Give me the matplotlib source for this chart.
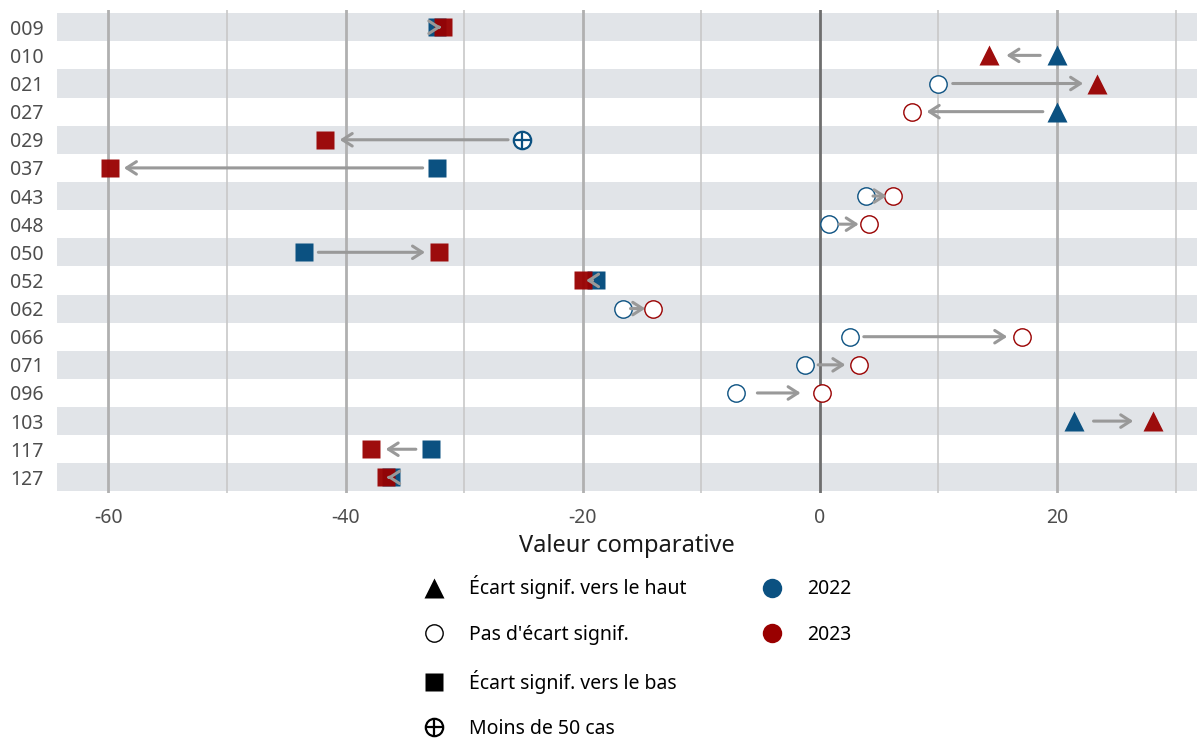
import numpy as np
import matplotlib
matplotlib.use('Agg')
import matplotlib.pyplot as plt
from matplotlib.patches import FancyArrowPatch
from matplotlib.lines import Line2D
from matplotlib.legend_handler import HandlerTuple

plt.rcParams['font.family'] = ['Noto Sans', 'DejaVu Sans']
plt.rcParams['axes.unicode_minus'] = False

# data
codes = ['009', '010', '021', '027', '029', '037', '043', '048', '050',
         '052', '062', '066', '071', '096', '103', '117', '127']
val_2022 = [-32.3, 20.0, 10.0, 20.0, -25.1, -32.3, 3.9, 0.8, -43.5,
            -18.9, -16.6, 2.5, -1.3, -7.1, 21.4, -32.8, -36.2]
val_2023 = [-31.8, 14.3, 23.4, 7.8, -41.7, -59.9, 6.2, 4.1, -32.1,
            -20.0, -14.1, 17.0, 3.3, 0.2, 28.1, -37.9, -36.6]
sig_2022 = ['bas', 'haut', 'ns', 'haut', 'lt50', 'bas', 'ns', 'ns', 'bas',
            'bas', 'ns', 'ns', 'ns', 'ns', 'haut', 'bas', 'bas']
sig_2023 = ['bas', 'haut', 'haut', 'ns', 'bas', 'bas', 'ns', 'ns', 'bas',
            'bas', 'ns', 'ns', 'ns', 'ns', 'haut', 'bas', 'bas']

BLUE = '#0b5181'
RED = '#990000'
BAND = '#e1e4e8'
ARROW = '#999999'


def draw_point(ax, x, y, sig, color, alpha=1.0):
    if sig == 'haut':
        ax.plot(x, y, marker='^', ms=15, color=color, mec='none', alpha=alpha, zorder=3)
    elif sig == 'bas':
        ax.plot(x, y, marker='s', ms=13, color=color, mec='none', alpha=alpha, zorder=3)
    elif sig == 'ns':
        ax.plot(x, y, marker='o', ms=12.5, mfc='white', mec=color, mew=1.0, zorder=3)
    else:
        ax.plot(x, y, marker='o', ms=12.5, mfc='white', mec=color, mew=1.6, zorder=3)
        ax.plot(x, y, marker='+', ms=12.5, color=color, mew=1.6, zorder=3)


fig = plt.figure(figsize=(11.97, 7.40), dpi=100)
ax = fig.add_axes([0.048, 0.334, 0.952, 0.652])

n = len(codes)
ypos = np.arange(n)

for i in ypos:
    if i % 2 == 0:
        ax.axhspan(i - 0.5, i + 0.5, color=BAND, lw=0, zorder=0)

for v in [-50, -30, -10, 10, 30]:
    ax.axvline(v, color='#c8c8c8', lw=1.2, zorder=1)
for v in [-60, -40, -20, 20]:
    ax.axvline(v, color='#b0b0b0', lw=2, zorder=1)
ax.axvline(0, color='#6e6e6e', lw=2, zorder=1)

for i in ypos:
    draw_point(ax, val_2022[i], i, sig_2022[i], BLUE)
    draw_point(ax, val_2023[i], i, sig_2023[i], RED, alpha=0.95)

    d = val_2023[i] - val_2022[i]
    sgn = np.sign(d)
    gap = 0.25 * abs(d) if abs(d) < 8 else 1.2
    x0 = val_2022[i] + sgn * gap
    x1 = val_2023[i] - sgn * gap
    arr = FancyArrowPatch((x0, i), (x1, i), arrowstyle='->,head_length=0.7,head_width=0.45',
                          mutation_scale=10, color=ARROW, lw=2.2,
                          shrinkA=0, shrinkB=0, zorder=4)
    ax.add_patch(arr)

ax.set_xlim(-64.3, 31.8)
ax.set_ylim(n - 1 + 0.55, -0.6)
ax.set_yticks(ypos)
ax.set_yticklabels(codes)
ax.set_xticks([-60, -40, -20, 0, 20])
ax.tick_params(axis='both', length=0, labelsize=14, colors='#4d4d4d')
ax.tick_params(axis='y', pad=10)
ax.tick_params(axis='x', pad=11)
ax.set_xlabel('Valeur comparative', fontsize=17, color='#1a1a1a', labelpad=4)
for s in ax.spines.values():
    s.set_visible(False)

# legend
h_haut = Line2D([], [], ls='none', marker='^', ms=15, color='black', mec='none')
h_ns = Line2D([], [], ls='none', marker='o', ms=12.5, mfc='white', mec='black', mew=1.0)
h_bas = Line2D([], [], ls='none', marker='s', ms=13, color='black', mec='none')
h_c = Line2D([], [], ls='none', marker='o', ms=12.5, mfc='white', mec='black', mew=1.6)
h_p = Line2D([], [], ls='none', marker='+', ms=12.5, color='black', mew=1.6)
h_22 = Line2D([], [], ls='none', marker='o', ms=14, color=BLUE, mec='none')
h_23 = Line2D([], [], ls='none', marker='o', ms=14, color=RED, mec='none')
h_blank = Line2D([], [], ls='none', marker=None)

handles = [h_haut, h_ns, h_bas, (h_c, h_p), h_22, h_23, h_blank, h_blank]
labels = ['Écart signif. vers le haut', "Pas d'écart signif.", 'Écart signif. vers le bas',
          'Moins de 50 cas', '2022', '2023', '', '']
fig.legend(handles, labels, loc='upper left', bbox_to_anchor=(0.335, 0.246),
           ncol=2, frameon=False, fontsize=14, labelspacing=1.3,
           handlelength=1.6, handletextpad=1.0, columnspacing=3.6,
           handler_map={tuple: HandlerTuple(ndivide=1, pad=0)})

fig.savefig('out.png', dpi=100)
